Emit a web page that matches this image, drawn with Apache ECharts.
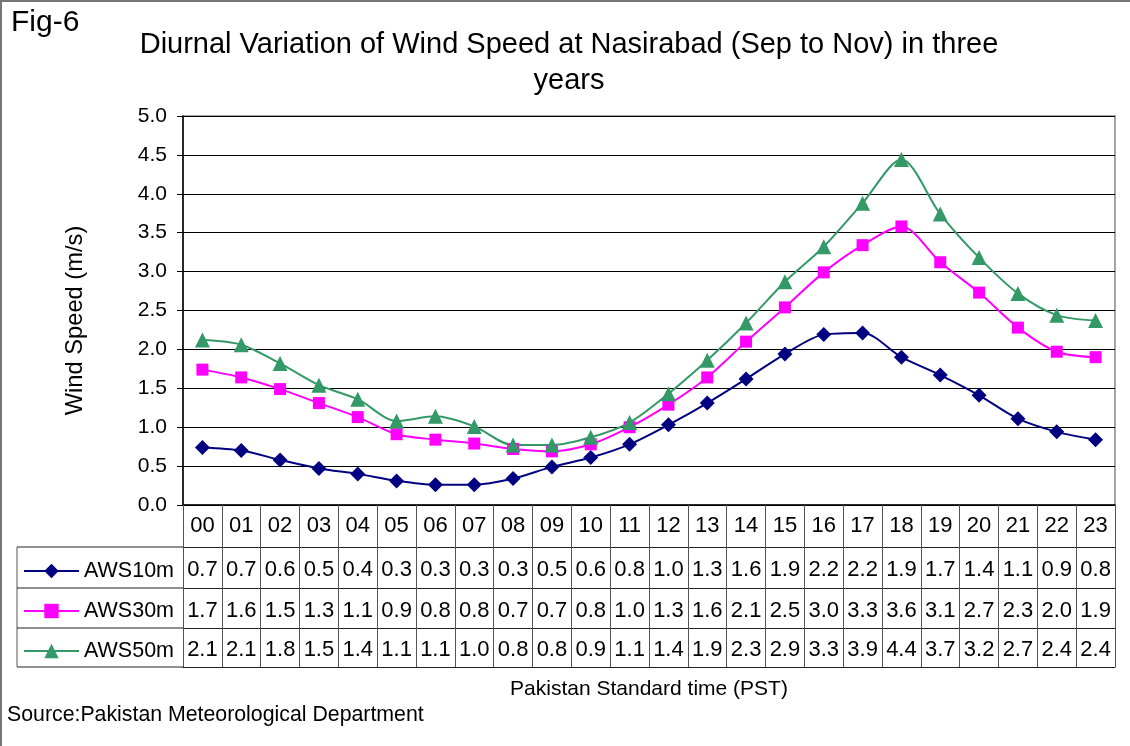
<!DOCTYPE html>
<html>
<head>
<meta charset="utf-8">
<script src="https://cdn.jsdelivr.net/npm/echarts@6/dist/echarts.min.js"></script>
<style>
html, body { margin: 0; padding: 0; background: #fff; }
#chart { width: 1130px; height: 746px; }
</style>
</head>
<body>
<div id="chart"></div>
<script>
var FONT = 'Liberation Sans, Arial, sans-serif';

// hours of the day (PST)
var hours = ['00', '01', '02', '03', '04', '05', '06', '07', '08', '09', '10', '11',
             '12', '13', '14', '15', '16', '17', '18', '19', '20', '21', '22', '23'];

// wind speed (m/s)
var aws10 = [0.74, 0.70, 0.58, 0.47, 0.40, 0.31, 0.26, 0.26, 0.34, 0.49, 0.61, 0.78,
             1.03, 1.31, 1.62, 1.94, 2.19, 2.21, 1.90, 1.67, 1.41, 1.11, 0.94, 0.84];
var aws30 = [1.74, 1.64, 1.49, 1.31, 1.13, 0.91, 0.84, 0.79, 0.72, 0.69, 0.78, 1.00,
             1.29, 1.64, 2.10, 2.54, 2.99, 3.34, 3.58, 3.12, 2.73, 2.28, 1.97, 1.90];
var aws50 = [2.12, 2.06, 1.82, 1.54, 1.36, 1.08, 1.14, 1.01, 0.77, 0.77, 0.87, 1.06,
             1.43, 1.86, 2.34, 2.87, 3.32, 3.88, 4.44, 3.74, 3.18, 2.72, 2.44, 2.37];

var seriesNames = ['AWS10m', 'AWS30m', 'AWS50m'];
var seriesColors = ['#000080', '#ff00ff', '#339966'];

var chart = echarts.init(document.getElementById('chart'));

function fmt(list) {
    return list.map(function (v) { return v.toFixed(1); });
}

// one axis per data-table row, stacked under the plot
function tableAxis(offset, rowHeight, labels, margin) {
    return {
        type: 'category',
        gridIndex: 0,
        position: 'bottom',
        offset: offset,
        data: hours,
        boundaryGap: true,
        axisLine: { show: true, lineStyle: { color: '#222', width: 1 } },
        axisTick: { show: rowHeight > 0, interval: 0, length: rowHeight, lineStyle: { color: '#555', width: 1 } },
        axisLabel: {
            show: !!labels,
            interval: 0,
            margin: margin || 10,
            fontSize: 22,
            fontFamily: FONT,
            color: '#000',
            formatter: function (v, i) { return labels ? labels[i] : v; }
        },
        splitLine: { show: false },
        axisPointer: { show: false }
    };
}

var bottomAxis = tableAxis(162, 0, null);
bottomAxis.name = 'Pakistan Standard time (PST)';
bottomAxis.nameLocation = 'middle';
bottomAxis.nameGap = 12;
bottomAxis.nameTextStyle = { fontSize: 21, fontFamily: FONT, color: '#000', verticalAlign: 'top' };

var headerAxis = tableAxis(0, 42, hours, 10);
headerAxis.axisLine.lineStyle = { color: '#000', width: 1.5 };

function legendRow(name, top) {
    return {
        data: [name],
        left: 23,
        top: top,
        padding: 0,
        itemWidth: 55,
        itemHeight: 18,
        selectedMode: false,
        textStyle: { fontSize: 21.5, fontFamily: FONT, color: '#000' }
    };
}

var series = [aws10, aws30, aws50].map(function (vals, k) {
    return {
        name: seriesNames[k],
        type: 'line',
        xAxisIndex: 0,
        data: vals,
        smooth: 0.3,
        symbol: ['diamond', 'rect', 'triangle'][k],
        symbolSize: [15, 12, 15][k],
        lineStyle: { color: seriesColors[k], width: 2 },
        itemStyle: { color: seriesColors[k] }
    };
});

var option = {
    animation: false,
    backgroundColor: '#fff',
    textStyle: { fontFamily: FONT },
    title: [
        {
            text: 'Diurnal Variation of Wind Speed at Nasirabad (Sep to Nov) in three\nyears',
            left: 569,
            top: 27,
            padding: 0,
            textAlign: 'center',
            textStyle: { fontSize: 29, lineHeight: 36, fontWeight: 'normal', fontFamily: FONT, color: '#000' }
        },
        {
            text: 'Fig-6',
            left: 11,
            top: 8,
            padding: 0,
            textStyle: { fontSize: 30, fontWeight: 'normal', fontFamily: FONT, color: '#000' }
        },
        {
            text: 'Source:Pakistan Meteorological Department',
            left: 7,
            top: 705,
            padding: 0,
            textStyle: { fontSize: 21.3, fontWeight: 'normal', fontFamily: FONT, color: '#000' }
        }
    ],
    legend: [
        legendRow(seriesNames[0], 560),
        legendRow(seriesNames[1], 600),
        legendRow(seriesNames[2], 640)
    ],
    grid: {
        left: 183,
        right: 15,
        top: 116,
        bottom: 241,
        show: true,
        backgroundColor: '#fff',
        borderColor: '#888',
        borderWidth: 1.5
    },
    xAxis: [
        headerAxis,
        tableAxis(42, 41, fmt(aws10), 12),
        tableAxis(83, 40, fmt(aws30), 12),
        tableAxis(123, 39, fmt(aws50), 11),
        bottomAxis
    ],
    yAxis: {
        type: 'value',
        min: 0,
        max: 5,
        interval: 0.5,
        name: 'Wind Speed (m/s)',
        nameLocation: 'middle',
        nameGap: 96,
        nameTextStyle: { fontSize: 23.7, fontFamily: FONT, color: '#000', padding: [0, 20, 0, 0] },
        axisLine: { show: true, lineStyle: { color: '#000', width: 1.5 } },
        axisTick: { show: true, length: 6, lineStyle: { color: '#000' } },
        axisLabel: {
            fontSize: 21,
            fontFamily: FONT,
            color: '#000',
            margin: 16,
            formatter: function (v) { return v.toFixed(1); }
        },
        splitLine: { show: true, lineStyle: { color: '#000', width: 1 } }
    },
    graphic: [
        // page frame (left and top edges)
        { type: 'line', shape: { x1: 1, y1: 0, x2: 1, y2: 746 }, style: { stroke: '#777', lineWidth: 2 } },
        { type: 'line', shape: { x1: 0, y1: 1, x2: 1130, y2: 1 }, style: { stroke: '#777', lineWidth: 2 } },
        // legend column of the data table
        { type: 'line', shape: { x1: 17, y1: 547, x2: 183, y2: 547 }, style: { stroke: '#222', lineWidth: 1 } },
        { type: 'line', shape: { x1: 17, y1: 588, x2: 183, y2: 588 }, style: { stroke: '#222', lineWidth: 1 } },
        { type: 'line', shape: { x1: 17, y1: 628, x2: 183, y2: 628 }, style: { stroke: '#222', lineWidth: 1 } },
        { type: 'line', shape: { x1: 17, y1: 667, x2: 183, y2: 667 }, style: { stroke: '#222', lineWidth: 1 } },
        { type: 'line', shape: { x1: 17, y1: 547, x2: 17, y2: 667 }, style: { stroke: '#555', lineWidth: 1 } }
    ],
    series: series
};

chart.setOption(option);
</script>
</body>
</html>
